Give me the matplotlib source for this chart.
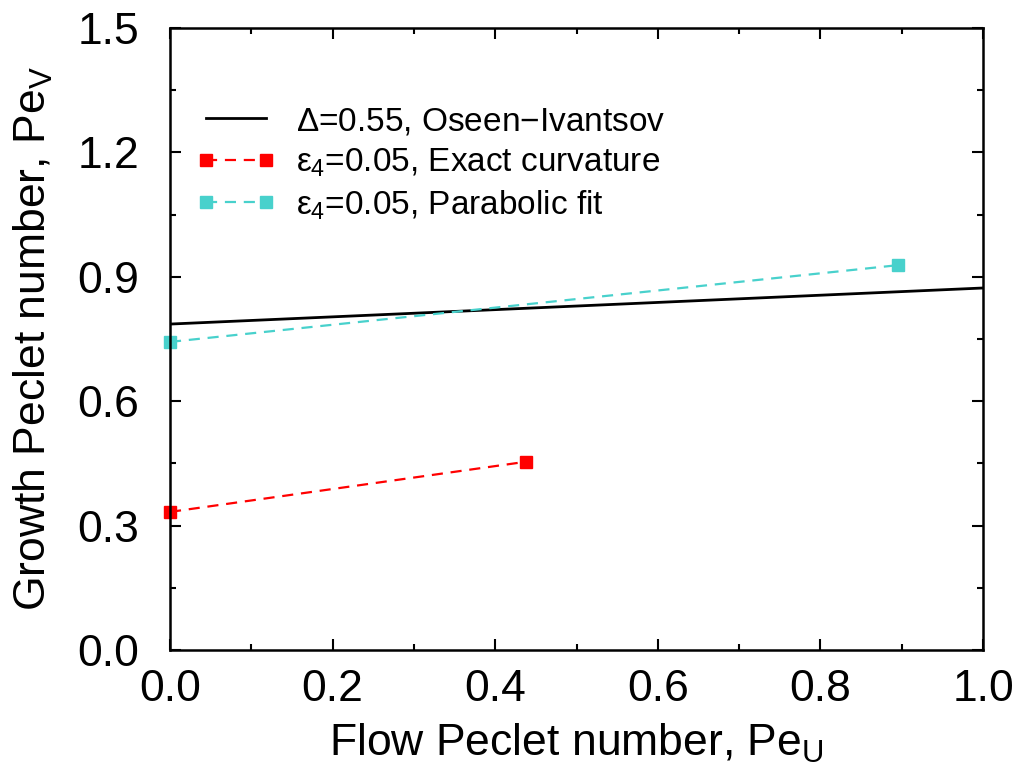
import numpy as np
import matplotlib
matplotlib.use('Agg')
import matplotlib.pyplot as plt
from matplotlib.ticker import MultipleLocator

plt.rcParams['font.family'] = ['Liberation Sans', 'DejaVu Sans']
plt.rcParams['mathtext.fontset'] = 'custom'
plt.rcParams['mathtext.rm'] = 'Liberation Sans'
plt.rcParams['mathtext.it'] = 'Liberation Sans'

# Oseen-Ivantsov line (end points)
oi_x = [0.0, 1.0]
oi_y = [0.786, 0.873]

# exact curvature
ex_x = [0.0, 0.438]
ex_y = [0.333, 0.454]

# parabolic fit
pf_x = [0.0, 0.895]
pf_y = [0.743, 0.928]

fig = plt.figure(figsize=(10.21, 7.76), dpi=100)
ax = fig.add_axes([170/1021, 126/776, 813/1021, 622/776])

ax.plot(oi_x, oi_y, color='black', lw=2, label=r'$\Delta$=0.55, Oseen$-$Ivantsov')
ax.plot(ex_x, ex_y, color='red', ls=(0, (5, 3.5)), lw=1.6, marker='s', ms=8,
        clip_on=False, label=r'$\epsilon_4$=0.05, Exact curvature')
ax.plot(pf_x, pf_y, color='#48d1cc', ls=(0, (5, 3.5)), lw=1.6, marker='s', ms=8,
        clip_on=False, label=r'$\epsilon_4$=0.05, Parabolic fit')

ax.set_xlim(0, 1.0)
ax.set_ylim(0, 1.5)
ax.xaxis.set_major_locator(MultipleLocator(0.2))
ax.xaxis.set_minor_locator(MultipleLocator(0.1))
ax.yaxis.set_major_locator(MultipleLocator(0.3))
ax.yaxis.set_minor_locator(MultipleLocator(0.15))
ax.xaxis.set_major_formatter(lambda v, p: '%.1f' % v)
ax.yaxis.set_major_formatter(lambda v, p: '%.1f' % v)
ax.tick_params(which='both', direction='in', top=True, right=True, labelsize=32, width=1.5)
ax.tick_params(which='major', length=8)
ax.tick_params(which='minor', length=4)
ax.tick_params(axis='x', which='major', pad=14)
ax.tick_params(axis='y', which='major', pad=22)
for s in ax.spines.values():
    s.set_linewidth(1.8)

ax.set_xlabel(r'Flow Peclet number, Pe$_\mathregular{U}$', fontsize=32, labelpad=8)
ax.set_ylabel(r'Growth Peclet number, Pe$_\mathregular{V}$', fontsize=32, labelpad=16)

ax.legend(loc='upper left', bbox_to_anchor=(0.003, 0.912), frameon=False, fontsize=24,
          numpoints=2, handlelength=2.4, handletextpad=0.6, labelspacing=0.28,
          borderaxespad=0.3)

fig.savefig('out.png', dpi=100)
